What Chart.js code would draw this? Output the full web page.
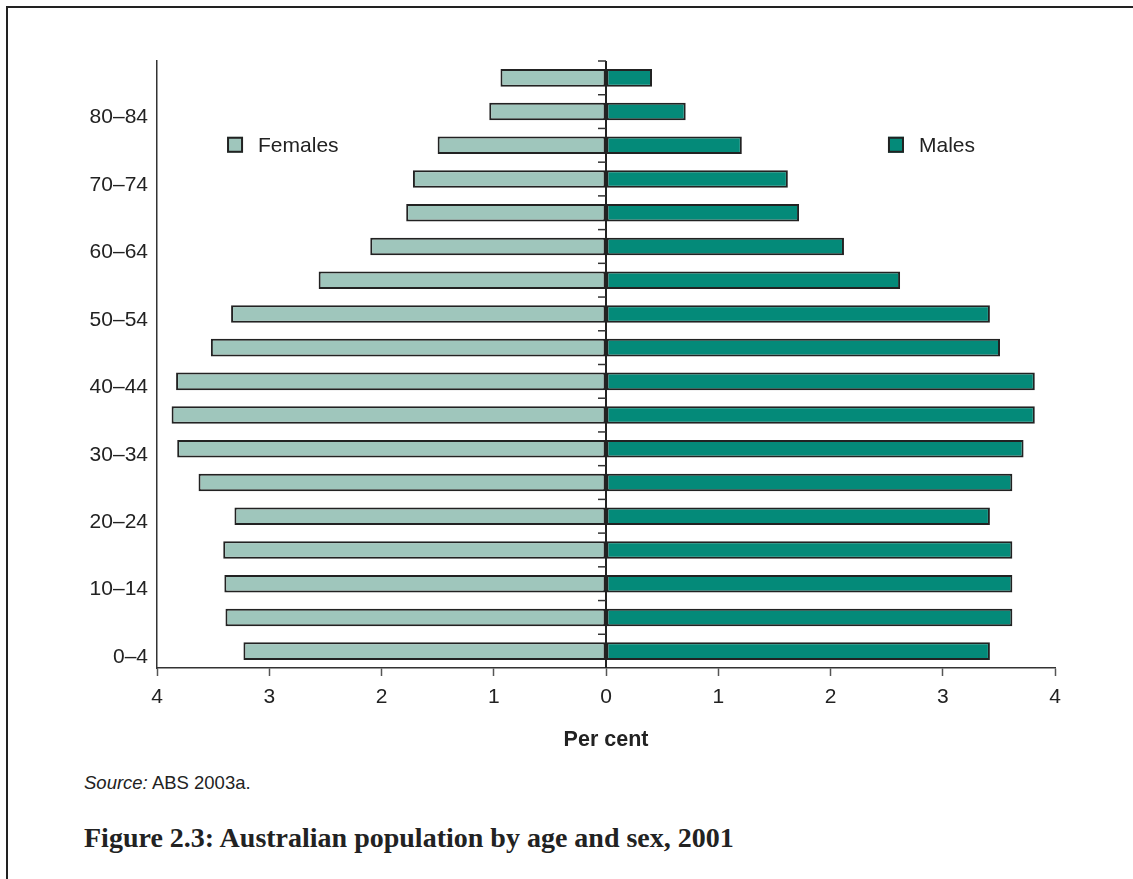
<!DOCTYPE html>
<html>
<head>
<meta charset="utf-8">
<script src="https://cdn.jsdelivr.net/npm/chart.js@4.4.1/dist/chart.umd.min.js"></script>
<style>
  html, body { margin: 0; padding: 0; background: #fff; }
  body { width: 1133px; height: 879px; position: relative; overflow: hidden; }
  #frame { position: absolute; left: 6px; top: 6px; right: -10px; bottom: -10px;
           border-left: 2px solid #222; border-top: 2px solid #222; }
  #chart { position: absolute; left: 0; top: 0; }
  .source { position: absolute; left: 84px; top: 774px; font: 18.5px/18px "Liberation Sans", Arial, sans-serif; color: #222; }
  .caption { position: absolute; left: 84px; top: 824px; font: bold 28px/28px "Liberation Serif", "Times New Roman", serif; color: #222; }
</style>
</head>
<body>
<div id="frame"></div>
<canvas id="chart" width="1133" height="760"></canvas>
<div class="source"><i>Source:</i> ABS 2003a.</div>
<div class="caption">Figure 2.3: Australian population by age and sex, 2001</div>

<script>
const ageGroups = ["0–4", "5–9", "10–14", "15–19", "20–24", "25–29", "30–34", "35–39", "40–44",
                   "45–49", "50–54", "55–59", "60–64", "65–69", "70–74", "75–79", "80–84", "85+"];
const femaleShare = [3.23, 3.39, 3.40, 3.41, 3.31, 3.63, 3.82, 3.87, 3.83,
                     3.52, 3.34, 2.56, 2.10, 1.78, 1.72, 1.50, 1.04, 0.94];
const maleShare = [3.42, 3.62, 3.62, 3.62, 3.42, 3.62, 3.72, 3.82, 3.82,
                   3.51, 3.42, 2.62, 2.12, 1.72, 1.62, 1.21, 0.71, 0.41];
const xTicks = [-4, -3, -2, -1, 0, 1, 2, 3, 4];

const INK = "#222";
const FONT = "'Liberation Sans', Arial, sans-serif";

// centre line with the short marks between age groups
const centreLine = {
    id: "centreLine",
    afterDatasetsDraw(chart) {
        const { ctx, chartArea, scales: { x, y } } = chart;
        const x0 = x.getPixelForValue(0);
        const step = Math.abs(y.getPixelForValue(1) - y.getPixelForValue(0));
        ctx.save();
        ctx.strokeStyle = INK;
        ctx.lineWidth = 2;
        ctx.beginPath();
        ctx.moveTo(x0, chartArea.top);
        ctx.lineTo(x0, chartArea.bottom);
        ctx.stroke();
        ctx.lineWidth = 1.5;
        ctx.strokeStyle = "#333";
        ageGroups.forEach((_, i) => {
            const yb = y.getPixelForValue(i) - step / 2;
            ctx.beginPath();
            ctx.moveTo(x0 - 8, yb);
            ctx.lineTo(x0, yb);
            ctx.stroke();
        });
        ctx.restore();
    }
};

// legend boxes sitting inside the plot
const innerLegend = {
    id: "innerLegend",
    afterDatasetsDraw(chart) {
        const { ctx, chartArea } = chart;
        const spots = [0.078, 0.814];
        ctx.save();
        ctx.font = "21px " + FONT;
        ctx.textBaseline = "middle";
        chart.data.datasets.forEach((ds, i) => {
            const bx = chartArea.left + chartArea.width * spots[i];
            const by = chartArea.top + chartArea.height * 0.138;
            ctx.fillStyle = ds.backgroundColor;
            ctx.fillRect(bx, by - 8, 16, 16);
            ctx.strokeStyle = INK;
            ctx.lineWidth = 2;
            ctx.strokeRect(bx + 1, by - 7, 14, 14);
            ctx.fillStyle = INK;
            ctx.fillText(ds.label, bx + 31, by + 1);
        });
        ctx.restore();
    }
};

new Chart(document.getElementById("chart"), {
    type: "bar",
    data: {
        labels: ageGroups,
        datasets: [
            {
                label: "Females",
                data: femaleShare.map(v => -v),
                backgroundColor: "#9fc6bc",
                borderColor: INK,
                borderWidth: 2,
                borderSkipped: false
            },
            {
                label: "Males",
                data: maleShare,
                backgroundColor: "#048a79",
                borderColor: INK,
                borderWidth: 2,
                borderSkipped: false
            }
        ]
    },
    options: {
        indexAxis: "y",
        responsive: false,
        animation: false,
        barPercentage: 0.52,
        categoryPercentage: 1,
        layout: { padding: { top: 61, left: 0, right: 78, bottom: 0 } },
        plugins: {
            legend: { display: false },
            tooltip: { enabled: false }
        },
        scales: {
            x: {
                type: "linear",
                stacked: true,
                min: -4,
                max: 4,
                afterBuildTicks: scale => { scale.ticks = xTicks.map(v => ({ value: v })); },
                afterFit: scale => { scale.height = 92; },
                ticks: {
                    color: INK,
                    padding: 9,
                    font: { family: FONT, size: 21 },
                    callback: v => Math.abs(v)
                },
                grid: {
                    drawOnChartArea: false,
                    drawTicks: true,
                    tickLength: 8,
                    tickColor: "#555",
                    tickWidth: 1.5
                },
                border: { color: "#333", width: 1.5 },
                title: {
                    display: true,
                    text: "Per cent",
                    color: INK,
                    padding: { top: 0, bottom: 7 },
                    font: { family: FONT, size: 21.5, weight: "bold" }
                }
            },
            y: {
                stacked: true,
                reverse: true,
                afterFit: scale => { scale.width = 157; },
                ticks: {
                    color: INK,
                    autoSkip: false,
                    padding: 9,
                    labelOffset: 6,
                    font: { family: FONT, size: 21 },
                    callback: (v, i) => (i % 2 === 0 ? ageGroups[i] : "")
                },
                grid: { display: false, drawTicks: false },
                border: { display: true, color: "#333", width: 1.5 }
            }
        }
    },
    plugins: [centreLine, innerLegend]
});
</script>
</body>
</html>
